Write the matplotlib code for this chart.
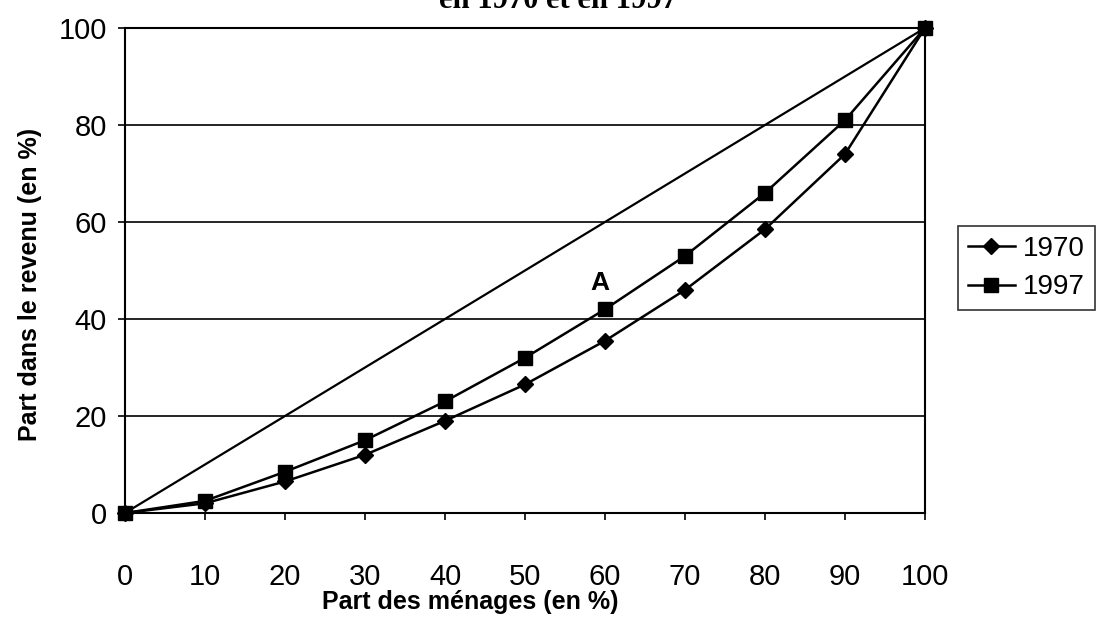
import matplotlib
matplotlib.use("Agg")
import matplotlib.pyplot as plt

plt.rcParams['font.family'] = ['Liberation Sans', 'DejaVu Sans']

x_vals = [0, 10, 20, 30, 40, 50, 60, 70, 80, 90, 100]
y_1970 = [0, 2, 6.5, 12, 19, 26.5, 35.5, 46, 58.5, 74, 100]
y_1997 = [0, 2.5, 8.5, 15, 23, 32, 42, 53, 66, 81, 100]
equality = [0, 100]
y_ticks = [0, 20, 40, 60, 80, 100]
title_text = "en 1970 et en 1997"

fig = plt.figure(figsize=(10.96, 6.19), dpi=100)
ax = fig.add_axes([125/1096, 1-513/619, 800/1096, 485/619])

ax.plot(equality, equality, color='black', lw=1.6)
ax.plot(x_vals, y_1970, color='black', lw=1.8, marker='D', markersize=8, label='1970')
ax.plot(x_vals, y_1997, color='black', lw=1.8, marker='s', markersize=10, label='1997')

ax.set_xlim(0, 100)
ax.set_ylim(0, 100)
ax.set_xticks(x_vals)
ax.set_yticks(y_ticks)
ax.yaxis.grid(True, color='black', lw=1.2)
ax.set_axisbelow(True)
for s in ax.spines.values():
    s.set_color('black')
    s.set_linewidth(1.5)
ax.tick_params(axis='both', labelsize=21, length=5, width=1.2, colors='black')
ax.tick_params(axis='x', pad=31)
ax.tick_params(axis='y', pad=8)
for t in ax.get_xticklabels() + ax.get_yticklabels():
    t.set_fontweight('medium')
for c in ax.lines:
    c.set_clip_on(False)

ax.set_xlabel("Part des ménages (en %)", fontsize=18, fontweight='bold')
ax.xaxis.set_label_coords((470 - 125) / 800, (513 - 590) / 485)
ax.set_ylabel("Part dans le revenu (en %)", fontsize=18, fontweight='bold')
ax.yaxis.set_label_coords((42 - 125) / 800, (513 - 284) / 485)

ax.text(59.4, 47.4, "A", fontsize=19, fontweight='bold', ha='center', va='center')

fig.text(558/1096, 1.0, title_text, fontsize=22, fontweight='bold',
         family='Liberation Serif', ha='center', va='center')

leg = ax.legend(loc='center left', bbox_to_anchor=(958/1096, 1-268/619),
                bbox_transform=fig.transFigure, fontsize=20, frameon=True,
                fancybox=False, edgecolor='black', handlelength=1.7,
                handletextpad=0.3, borderpad=0.35, labelspacing=0.45,
                borderaxespad=0)
leg.get_frame().set_linewidth(1.2)

fig.savefig("out.png", dpi=100)
